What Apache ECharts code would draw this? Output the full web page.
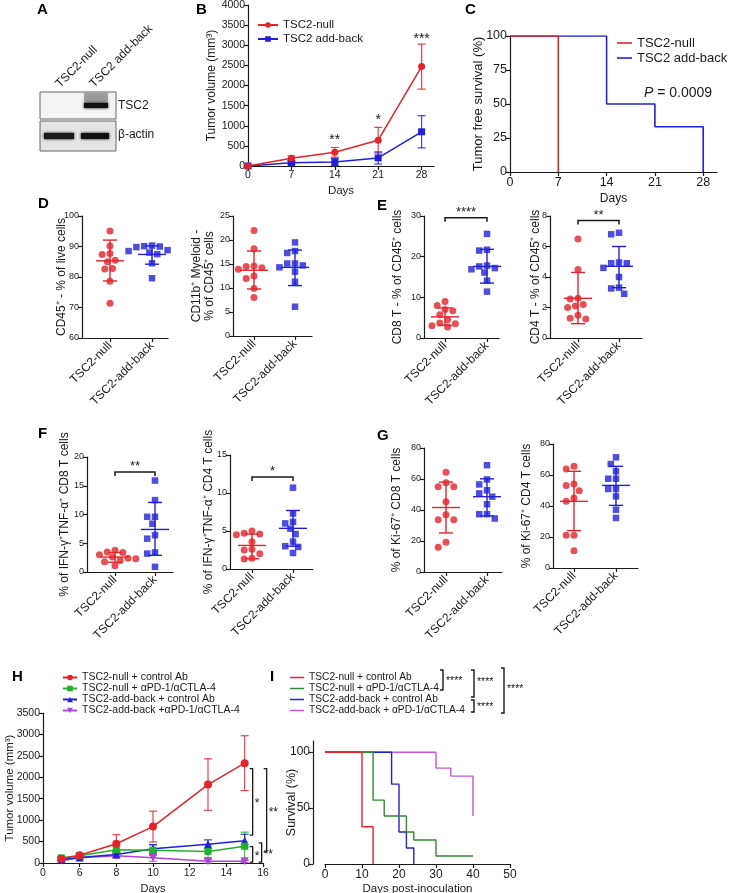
<!DOCTYPE html>
<html><head><meta charset="utf-8">
<script src="https://cdn.jsdelivr.net/npm/echarts@6/dist/echarts.min.js"></script>
<style>html,body{margin:0;padding:0;background:#fff}#c{width:731px;height:893px}</style>
</head><body><div id="c"></div>
<script>
// ---------------- DATA ----------------
// Panel B: tumour volume (mm3) vs days
const bDays = [0, 7, 14, 21, 28];
const bNullMean = [0, 190, 340, 640, 2470];
const bNullErr = [15, 60, 120, 320, 560];
const bAddMean = [0, 80, 100, 200, 850];
const bAddErr = [10, 40, 90, 150, 400];
const bStarDay = [14, 21, 28];
const bStarY = [640, 1140, 3150];
const bStarText = ['**', '*', '***'];
// Panel C: tumour free survival (%)
const cNullT = [0, 7];
const cNullS = [100, 0];
const cAddT = [0, 14, 21, 28];
const cAddS = [100, 50, 33.3, 0];
// Dot plots D-G
const dotCats = ['TSC2-null', 'TSC2-add-back'];
const d1Null = [95.1, 90.2, 87.7, 87.4, 85.5, 85.0, 82.8, 82.6, 78.6, 71.4];
const d1Add = [90.3, 90.1, 90.0, 89.8, 88.8, 88.5, 88.0, 87.5, 84.5, 79.6];
const d1Stats = [[85.3, 78.7, 92.1], [87.4, 84.2, 90.2]];
const d2Null = [22.0, 18.2, 14.6, 14.5, 14.2, 13.9, 12.5, 12.0, 9.9, 8.0];
const d2Add = [19.5, 17.7, 17.3, 15.1, 15.1, 14.7, 14.3, 13.4, 11.3, 6.1];
const d2Stats = [[13.7, 9.8, 17.7], [14.3, 10.5, 17.9]];
const e1Null = [9.0, 8.0, 7.0, 6.7, 5.7, 4.5, 3.7, 3.5, 3.0, 2.7];
const e1Add = [25.6, 21.7, 21.5, 17.8, 17.6, 17.2, 16.9, 16.1, 14.1, 11.4];
const e1Stats = [[5.2, 3.1, 7.4], [17.6, 13.5, 21.8]];
const e2Null = [6.5, 4.5, 2.6, 2.55, 2.2, 2.1, 2.0, 1.5, 1.3, 1.25];
const e2Add = [6.9, 6.8, 4.95, 4.9, 4.9, 4.6, 4.0, 3.3, 3.25, 2.9];
const e2Stats = [[2.6, 0.94, 4.3], [4.7, 3.3, 6.0]];
const f1Null = [3.8, 3.5, 3.4, 3.0, 2.6, 2.4, 2.3, 2.0, 1.8, 1.1];
const f1Add = [15.9, 12.5, 9.6, 9.6, 8.4, 6.4, 5.8, 3.4, 3.2, 0.9];
const f1Stats = [[2.6, 1.7, 3.4], [7.4, 2.9, 12.1]];
const f2Null = [5.0, 4.7, 4.6, 4.5, 3.6, 2.6, 2.5, 2.0, 1.4, 1.3];
const f2Add = [10.7, 7.3, 6.2, 6.0, 5.3, 4.6, 3.6, 3.0, 2.9, 2.1];
const f2Stats = [[3.1, 1.35, 4.6], [5.35, 3.0, 7.7]];
const g1Null = [64.4, 57.6, 55.0, 55.0, 45.4, 36.9, 33.7, 33.7, 19.2, 16.0];
const g1Add = [68.9, 59.7, 56.5, 52.7, 50.7, 48.6, 43.7, 37.3, 37.3, 34.5];
const g1Stats = [[41.6, 25.2, 58.0], [48.6, 36.2, 60.1]];
const g2Null = [65.6, 63.9, 54.2, 53.3, 49.9, 45.2, 43.0, 21.1, 21.1, 11.2];
const g2Add = [71.4, 67.1, 62.4, 57.6, 57.6, 51.0, 51.0, 46.2, 37.6, 32.3];
const g2Stats = [[43.0, 24.1, 62.4], [53.3, 40.4, 65.6]];
const e1Sig = [29.6, '****'];
const e2Sig = [7.7, '**'];
const f1Sig = [17.4, '**'];
const f2Sig = [12.1, '*'];
// Panel H: tumour volume with treatment
const hDays = [5, 6, 8, 10, 13, 15];
const hNames = ['TSC2-null + control Ab', 'TSC2-null + \u03b1PD-1/\u03b1CTLA-4', 'TSC2-add-back + control Ab', 'TSC2-add-back +\u03b1PD-1/\u03b1CTLA-4'];
const hNullCtl = [100, 180, 450, 850, 1830, 2330];
const hNullCtlErr = [30, 40, 210, 360, 600, 640];
const hNullTx = [120, 170, 310, 300, 270, 390];
const hNullTxErr = [30, 40, 80, 120, 150, 330];
const hAddCtl = [80, 130, 200, 330, 440, 520];
const hAddCtlErr = [30, 30, 60, 100, 100, 150];
const hAddTx = [50, 120, 170, 120, 40, 40];
const hAddTxErr = [20, 30, 50, 80, 40, 30];
const hSigHi = [2200, 2200, 380, 470];
const hSigLo = [650, 260, 20, 20];
const hSigText = ['*', '**', '*', '**'];
// Panel I: survival (%)
const iNames = ['TSC2-null + control Ab', 'TSC2-null + \u03b1PD-1/\u03b1CTLA-4', 'TSC2-add-back + control Ab', 'TSC2-add-back + \u03b1PD-1/\u03b1CTLA-4'];
const iNullCtlT = [0, 10, 13];
const iNullCtlS = [100, 33.3, 0];
const iNullTxT = [0, 13, 16, 22, 24, 30, 40];
const iNullTxS = [100, 57.1, 42.9, 28.6, 21.4, 7.1, 7.1];
const iAddCtlT = [0, 18, 20, 22, 24];
const iAddCtlS = [100, 71.4, 28.6, 14.3, 0];
const iAddTxT = [0, 30, 34, 40];
const iAddTxS = [100, 85.7, 78.6, 42.9];

// ---------------- STYLE ----------------
const FONT = '"Liberation Sans", Arial, Helvetica, sans-serif';
const INK = '#1a1a1a';
const RED = '#e3242b', BLUE = '#2020d8', GREEN = '#22b02a', PURPLE = '#b044d8';
const IRED = '#e3242b', IGREEN = '#2e8b2e', IBLUE = '#2323cc', IPURPLE = '#c455e0';
const axisLine = {show: true, onZero: false, lineStyle: {color: INK, width: 1.2}};
const axisTick = {show: true, length: 4, inside: false, lineStyle: {color: INK, width: 1.2}};
const plain = v => String(v);

const grids = [], xAxes = [], yAxes = [], series = [];
function addGrid(l, t, w, h) {
  grids.push({left: l, top: t, width: w, height: h, containLabel: false, outerBoundsMode: 'none'});
  return grids.length - 1;
}
const zip = (a, b) => a.map((v, i) => [v, b[i]]);

function errBars(gi, xs, m, e, color, cap) {
  series.push({type: 'custom', xAxisIndex: gi, yAxisIndex: gi, silent: true, z: 1,
    data: xs.map((x, i) => [x, m[i] - e[i], m[i] + e[i]]),
    renderItem(p, api) {
      const lo = api.coord([api.value(0), api.value(1)]);
      const hi = api.coord([api.value(0), api.value(2)]);
      const st = {stroke: color, lineWidth: 1.2, opacity: 0.85};
      return {type: 'group', children: [
        {type: 'line', shape: {x1: lo[0], y1: lo[1], x2: hi[0], y2: hi[1]}, style: st},
        {type: 'line', shape: {x1: hi[0] - cap, y1: hi[1], x2: hi[0] + cap, y2: hi[1]}, style: st},
        {type: 'line', shape: {x1: lo[0] - cap, y1: lo[1], x2: lo[0] + cap, y2: lo[1]}, style: st}]};
    }});
}

// ---------------- B ----------------
{
  const gi = addGrid(248, 5, 186, 161);
  xAxes.push({type: 'value', gridIndex: gi, min: 0, max: 30, interval: 7, splitLine: {show: false}, axisLine, axisTick,
    axisLabel: {fontSize: 10.5, color: INK, margin: 4, showMaxLabel: false, formatter: plain}, name: 'Days', nameLocation: 'middle', nameGap: 19,
    nameMoveOverlap: false, nameTextStyle: {fontSize: 11.5, color: INK}});
  yAxes.push({type: 'value', gridIndex: gi, min: 0, max: 4000, interval: 500, splitLine: {show: false}, axisLine, axisTick,
    axisLabel: {fontSize: 10.5, color: INK, margin: 3, formatter: plain}, name: 'Tumor volume (mm\u00b3)', nameLocation: 'middle', nameRotate: 90,
    nameGap: 30, nameMoveOverlap: false, nameTextStyle: {fontSize: 12, color: INK}});
  errBars(gi, bDays, bNullMean, bNullErr, RED, 4);
  errBars(gi, bDays, bAddMean, bAddErr, BLUE, 4);
  series.push({type: 'line', name: 'TSC2-null', xAxisIndex: gi, yAxisIndex: gi, data: zip(bDays, bNullMean), symbol: 'circle', symbolSize: 7,
    itemStyle: {color: RED}, lineStyle: {color: RED, width: 1.5}, z: 3});
  series.push({type: 'line', name: 'TSC2 add-back', xAxisIndex: gi, yAxisIndex: gi, data: zip(bDays, bAddMean), symbol: 'rect', symbolSize: 7,
    itemStyle: {color: BLUE}, lineStyle: {color: BLUE, width: 1.5}, z: 2});
  series.push({type: 'custom', xAxisIndex: gi, yAxisIndex: gi, silent: true, data: zip(bStarDay, bStarY),
    renderItem(p, api) {
      const c = api.coord([api.value(0), api.value(1)]);
      return {type: 'text', x: c[0], y: c[1], style: {text: bStarText[p.dataIndex], fill: INK, fontSize: 14, fontFamily: FONT, align: 'center', verticalAlign: 'middle'}};
    }});
}
// ---------------- C ----------------
{
  const gi = addGrid(510, 36, 207, 136);
  xAxes.push({type: 'value', gridIndex: gi, min: 0, max: 30, interval: 7, splitLine: {show: false}, axisLine, axisTick,
    axisLabel: {fontSize: 12.5, color: INK, margin: 4, showMaxLabel: false, formatter: plain}, name: 'Days', nameLocation: 'middle', nameGap: 21,
    nameMoveOverlap: false, nameTextStyle: {fontSize: 12, color: INK}});
  yAxes.push({type: 'value', gridIndex: gi, min: 0, max: 100, interval: 25, splitLine: {show: false}, axisLine, axisTick,
    axisLabel: {fontSize: 12.5, color: INK, margin: 3, formatter: plain}, name: 'Tumor free survival (%)', nameLocation: 'middle', nameRotate: 90,
    nameGap: 25, nameMoveOverlap: false, nameTextStyle: {fontSize: 13, color: INK}});
  series.push({type: 'line', name: 'TSC2 add-back ', xAxisIndex: gi, yAxisIndex: gi, data: zip(cAddT, cAddS), step: 'end', symbol: 'none',
    lineStyle: {color: BLUE, width: 1.6}, itemStyle: {color: BLUE}, z: 2});
  series.push({type: 'line', name: 'TSC2-null ', xAxisIndex: gi, yAxisIndex: gi, data: zip(cNullT, cNullS), step: 'end', symbol: 'none',
    lineStyle: {color: RED, width: 1.6}, itemStyle: {color: RED}, z: 3});
}
// ---------------- D-G dot plots ----------------
function swarm(vals, yPx, sp) {
  const d = 7.2;
  const order = vals.map((_, i) => i).sort((a, b) => vals[b] - vals[a]);
  const placed = [], out = [];
  for (const i of order) {
    const y = vals[i] * yPx; let x = 0;
    for (let k = 0; k < 40; k++) {
      const cand = (k % 2 ? -1 : 1) * Math.ceil(k / 2) * 2.6;
      if (placed.every(q => Math.hypot(q[0] - cand, q[1] - y) >= d)) { x = cand; break; }
    }
    placed.push([x, y]); out[i] = x / sp;
  }
  return out;
}
function dotPanel(L, nullVals, addVals, stats, sig) {
  const gi = addGrid(L.ax, L.top, L.end - L.ax, L.bot - L.top);
  const sp = L.c1 - L.c0;
  xAxes.push({type: 'value', gridIndex: gi, min: -(L.c0 - L.ax) / sp, max: 1 + (L.end - L.c1) / sp,
    splitLine: {show: false}, axisLine, axisTick: Object.assign({}, axisTick, {customValues: [0, 1]}),
    axisLabel: {customValues: [0, 1], rotate: 45, fontSize: 12, color: INK, margin: 6, formatter: v => dotCats[Math.round(v)]}});
  yAxes.push({type: 'value', gridIndex: gi, min: L.min, max: L.max, interval: L.step, splitLine: {show: false}, axisLine, axisTick,
    axisLabel: {fontSize: 9, color: INK, margin: 3, formatter: plain}, name: L.name, nameLocation: 'middle', nameRotate: 90, nameGap: L.gap,
    nameMoveOverlap: false, nameTextStyle: {fontSize: 12, color: INK, lineHeight: 13}});
  const yPx = (L.bot - L.top) / (L.max - L.min);
  const o0 = swarm(nullVals, yPx, sp), o1 = swarm(addVals, yPx, sp);
  series.push({type: 'scatter', xAxisIndex: gi, yAxisIndex: gi, silent: true, symbol: 'circle', symbolSize: 7,
    itemStyle: {color: RED}, data: nullVals.map((v, i) => [o0[i], v]), z: 2});
  series.push({type: 'scatter', xAxisIndex: gi, yAxisIndex: gi, silent: true, symbol: 'rect', symbolSize: 6.5,
    itemStyle: {color: BLUE}, data: addVals.map((v, i) => [1 + o1[i], v]), z: 2});
  series.push({type: 'custom', xAxisIndex: gi, yAxisIndex: gi, silent: true, z: 4,
    data: stats.map((s, i) => [i, s[0], s[1], s[2]]),
    renderItem(p, api) {
      const col = p.dataIndex ? BLUE : RED, x = api.value(0);
      const m = api.coord([x, api.value(1)]), lo = api.coord([x, api.value(2)]), hi = api.coord([x, api.value(3)]);
      const st = {stroke: col, lineWidth: 1.4};
      return {type: 'group', children: [
        {type: 'line', shape: {x1: m[0] - 14, y1: m[1], x2: m[0] + 14, y2: m[1]}, style: st},
        {type: 'line', shape: {x1: lo[0], y1: lo[1], x2: hi[0], y2: hi[1]}, style: st},
        {type: 'line', shape: {x1: hi[0] - 7, y1: hi[1], x2: hi[0] + 7, y2: hi[1]}, style: st},
        {type: 'line', shape: {x1: lo[0] - 7, y1: lo[1], x2: lo[0] + 7, y2: lo[1]}, style: st}]};
    }});
  if (sig) {
    series.push({type: 'custom', xAxisIndex: gi, yAxisIndex: gi, silent: true, z: 4, data: [[0, sig[0]]],
      renderItem(p, api) {
        const a = api.coord([0, api.value(1)]), b = api.coord([1, api.value(1)]);
        const st = {stroke: INK, lineWidth: 1.5};
        return {type: 'group', children: [
          {type: 'polyline', shape: {points: [[a[0], a[1] + 4], a, b, [b[0], b[1] + 4]]}, style: Object.assign({fill: null}, st)},
          {type: 'text', x: (a[0] + b[0]) / 2, y: a[1] + 1, style: {text: sig[1], fill: INK, fontSize: 13, fontFamily: FONT, align: 'center', verticalAlign: 'bottom'}}]};
      }});
  }
}
dotPanel({ax: 82, c0: 110, c1: 152, end: 168, top: 216, bot: 338, min: 60, max: 100, step: 10, gap: 14,
  name: 'CD45\u207a - % of live cells'}, d1Null, d1Add, d1Stats);
dotPanel({ax: 233, c0: 254, c1: 295, end: 312, top: 216, bot: 336, min: 0, max: 25, step: 5, gap: 17,
  name: 'CD11b\u207a Myeloid -\n% of CD45\u207a cells'}, d2Null, d2Add, d2Stats);
dotPanel({ax: 424, c0: 445, c1: 487, end: 499, top: 216, bot: 338, min: 0, max: 30, step: 10, gap: 20,
  name: 'CD8 T - % of CD45\u207a cells'}, e1Null, e1Add, e1Stats, e1Sig);
dotPanel({ax: 550, c0: 578, c1: 619, end: 642, top: 216, bot: 338, min: 0, max: 8, step: 2, gap: 8,
  name: 'CD4 T - % of CD45\u207a cells'}, e2Null, e2Add, e2Stats, e2Sig);
dotPanel({ax: 87, c0: 115, c1: 155, end: 173, top: 457, bot: 572, min: 0, max: 20, step: 5, gap: 16,
  name: '% of IFN-\u03b3\u207aTNF-\u03b1\u207a CD8 T cells'}, f1Null, f1Add, f1Stats, f1Sig);
dotPanel({ax: 230, c0: 252, c1: 293, end: 313, top: 455, bot: 569, min: 0, max: 15, step: 5, gap: 15,
  name: '% of IFN-\u03b3\u207aTNF-\u03b1\u207a CD4 T cells'}, f2Null, f2Add, f2Stats, f2Sig);
dotPanel({ax: 424, c0: 446, c1: 487, end: 502, top: 448, bot: 572, min: 0, max: 80, step: 20, gap: 21,
  name: '% of Ki-67\u207a CD8 T cells'}, g1Null, g1Add, g1Stats);
dotPanel({ax: 553, c0: 574, c1: 616, end: 638, top: 444, bot: 568, min: 0, max: 80, step: 20, gap: 20,
  name: '% of Ki-67\u207a CD4 T cells'}, g2Null, g2Add, g2Stats);

// ---------------- H ----------------
{
  const gi = addGrid(43, 713, 220, 150);
  xAxes.push({type: 'value', gridIndex: gi, min: 4, max: 16, interval: 2, splitLine: {show: false}, axisLine, axisTick,
    axisLabel: {fontSize: 10.5, color: INK, margin: 5, formatter: v => (v === 4 ? '0' : String(v))}, name: 'Days', nameLocation: 'middle', nameGap: 20,
    nameMoveOverlap: false, nameTextStyle: {fontSize: 11, color: INK}});
  yAxes.push({type: 'value', gridIndex: gi, min: 0, max: 3500, interval: 500, splitLine: {show: false}, axisLine, axisTick,
    axisLabel: {fontSize: 10.5, color: INK, margin: 3, formatter: plain}, name: 'Tumor volume (mm\u00b3)', nameLocation: 'middle', nameRotate: 90,
    nameGap: 27, nameMoveOverlap: false, nameTextStyle: {fontSize: 11.5, color: INK}});
  const defs = [[hNullCtl, hNullCtlErr, RED, 'circle', 8, 0], [hNullTx, hNullTxErr, GREEN, 'rect', 7, 0],
                [hAddCtl, hAddCtlErr, BLUE, 'triangle', 8, 0], [hAddTx, hAddTxErr, PURPLE, 'triangle', 8, 180]];
  defs.forEach((d) => errBars(gi, hDays, d[0], d[1], d[2], 4));
  defs.forEach((d, k) => series.push({type: 'line', name: hNames[k], xAxisIndex: gi, yAxisIndex: gi, data: zip(hDays, d[0]),
    symbol: d[3], symbolSize: d[4], symbolRotate: d[5], itemStyle: {color: d[2]}, lineStyle: {color: d[2], width: 1.5}, z: 6 - k}));
  const dx = [8, 22, 8, 17];
  series.push({type: 'custom', xAxisIndex: gi, yAxisIndex: gi, silent: true, data: hSigHi.map((v, i) => [15, v, hSigLo[i]]),
    renderItem(p, api) {
      const a = api.coord([15, api.value(1)]), b = api.coord([15, api.value(2)]);
      const x = a[0] + dx[p.dataIndex];
      return {type: 'group', children: [
        {type: 'polyline', shape: {points: [[x - 3, a[1]], [x, a[1]], [x, b[1]], [x - 3, b[1]]]}, style: {stroke: INK, lineWidth: 1.3, fill: null}},
        {type: 'text', x: x + 2, y: (a[1] + b[1]) / 2 + 2, style: {text: hSigText[p.dataIndex], fill: INK, fontSize: 12, fontFamily: FONT, align: 'left', verticalAlign: 'middle'}}]};
    }});
}
// ---------------- I ----------------
{
  const gi = addGrid(325, 741, 185, 123);
  xAxes.push({type: 'value', gridIndex: gi, min: 0, max: 50, interval: 10, splitLine: {show: false}, axisLine, axisTick,
    axisLabel: {fontSize: 12, color: INK, margin: 5, formatter: plain}, name: 'Days post-inoculation', nameLocation: 'middle', nameGap: 19,
    nameMoveOverlap: false, nameTextStyle: {fontSize: 11.5, color: INK}});
  yAxes.push({type: 'value', gridIndex: gi, min: 0, max: 110, interval: 50, offset: 12, splitLine: {show: false}, axisLine, axisTick,
    axisLabel: {fontSize: 12, color: INK, margin: 3, formatter: plain}, name: 'Survival (%)', nameLocation: 'middle', nameRotate: 90,
    nameGap: 15, nameMoveOverlap: false, nameTextStyle: {fontSize: 12.5, color: INK}});
  const defs = [[iNullCtlT, iNullCtlS, IRED], [iNullTxT, iNullTxS, IGREEN], [iAddCtlT, iAddCtlS, IBLUE], [iAddTxT, iAddTxS, IPURPLE]];
  defs.forEach((d, k) => series.push({type: 'line', name: iNames[k] + ' ', xAxisIndex: gi, yAxisIndex: gi, data: zip(d[0], d[1]), step: 'end',
    symbol: 'none', lineStyle: {color: d[2], width: 1.4}, itemStyle: {color: d[2]}, z: 6 - k}));
}

// ---------------- graphics: panel letters, blot, annotations ----------------
const letter = (t, x, y) => ({type: 'text', x, y, style: {text: t, fill: '#000', fontSize: 15, fontWeight: 'bold', fontFamily: FONT}});
const gtext = (t, x, y, o, rot) => ({type: 'text', x, y, rotation: rot || 0, style: Object.assign({text: t, fill: INK, fontSize: 11.5, fontFamily: FONT}, o || {})});
const gline = (pts) => ({type: 'polyline', shape: {points: pts}, style: {stroke: INK, lineWidth: 1.4, fill: null}});
const graphic = [
  letter('A', 37, 2), letter('B', 196, 2), letter('C', 465, 2), letter('D', 38, 196), letter('E', 377, 198),
  letter('F', 38, 426), letter('G', 377, 428), letter('H', 12, 669), letter('I', 270, 669),
  // western blot
  {type: 'rect', shape: {x: 40, y: 92, width: 76, height: 27}, style: {fill: '#f4f4f4', stroke: '#666', lineWidth: 1}},
  {type: 'rect', shape: {x: 40, y: 121, width: 76, height: 30}, style: {fill: '#e4e4e4', stroke: '#666', lineWidth: 1}},
  {type: 'rect', shape: {x: 84, y: 93, width: 24, height: 10}, style: {fill: 'rgba(40,40,40,0.35)', shadowBlur: 5, shadowColor: 'rgba(0,0,0,0.4)'}},
  {type: 'rect', shape: {x: 84, y: 103, width: 24, height: 5}, style: {fill: '#111', shadowBlur: 3, shadowColor: '#000'}},
  {type: 'rect', shape: {x: 44, y: 133, width: 30, height: 6}, style: {fill: '#1a1a1a', shadowBlur: 3, shadowColor: '#000'}},
  {type: 'rect', shape: {x: 81, y: 133, width: 28, height: 6}, style: {fill: '#111', shadowBlur: 3, shadowColor: '#000'}},
  gtext('TSC2', 118, 100, {fontSize: 12}), gtext('\u03b2-actin', 118, 129, {fontSize: 12}),
  gtext('TSC2-null', 62, 90, {fontSize: 12, align: 'left', verticalAlign: 'bottom'}, Math.PI / 4),
  gtext('TSC2 add-back', 96, 90, {fontSize: 12, align: 'left', verticalAlign: 'bottom'}, Math.PI / 4),
  // P value in C
  {type: 'text', x: 644, y: 86, style: {text: '{i|P} = 0.0009', fill: INK, fontSize: 14, fontFamily: FONT,
    rich: {i: {fontStyle: 'italic', fontSize: 14, fontFamily: FONT, fill: INK}}}},
  // I legend significance brackets
  gline([[440, 670], [443, 670], [443, 690], [440, 690]]), gtext('****', 446, 676, {fontSize: 10.5}),
  gline([[471, 670], [474, 670], [474, 697], [471, 697]]), gtext('****', 477, 677, {fontSize: 10.5}),
  gline([[471, 700], [474, 700], [474, 712], [471, 712]]), gtext('****', 477, 702, {fontSize: 10.5}),
  gline([[501, 668], [504, 668], [504, 713], [501, 713]]), gtext('****', 507, 684, {fontSize: 10.5})
];

const option = {
  animation: false,
  backgroundColor: '#fff',
  textStyle: {fontFamily: FONT},
  grid: grids, xAxis: xAxes, yAxis: yAxes, series,
  legend: [
    {orient: 'vertical', left: 252, top: 14, itemWidth: 20, itemHeight: 7, itemGap: 2, data: ['TSC2-null', 'TSC2 add-back'],
      textStyle: {color: INK, fontFamily: FONT, fontSize: 11.5, lineHeight: 12}},
    {orient: 'vertical', left: 612, top: 31, itemWidth: 15, itemHeight: 1.6, icon: 'rect', itemGap: 1, data: ['TSC2-null ', 'TSC2 add-back '],
      textStyle: {color: INK, fontFamily: FONT, fontSize: 13, lineHeight: 14}},
    {orient: 'vertical', left: 57, top: 667, itemWidth: 14, itemHeight: 7, itemGap: 0, data: hNames,
      textStyle: {color: INK, fontFamily: FONT, fontSize: 10.5, lineHeight: 11}},
    {orient: 'vertical', left: 285, top: 667, itemWidth: 14, itemHeight: 1.5, icon: 'rect', itemGap: 0, data: iNames.map(n => n + ' '),
      textStyle: {color: INK, fontFamily: FONT, fontSize: 10.2, lineHeight: 11}}
  ],
  graphic
};
const chart = echarts.init(document.getElementById('c'), null, {renderer: 'canvas'});
chart.setOption(option);
</script></body></html>
